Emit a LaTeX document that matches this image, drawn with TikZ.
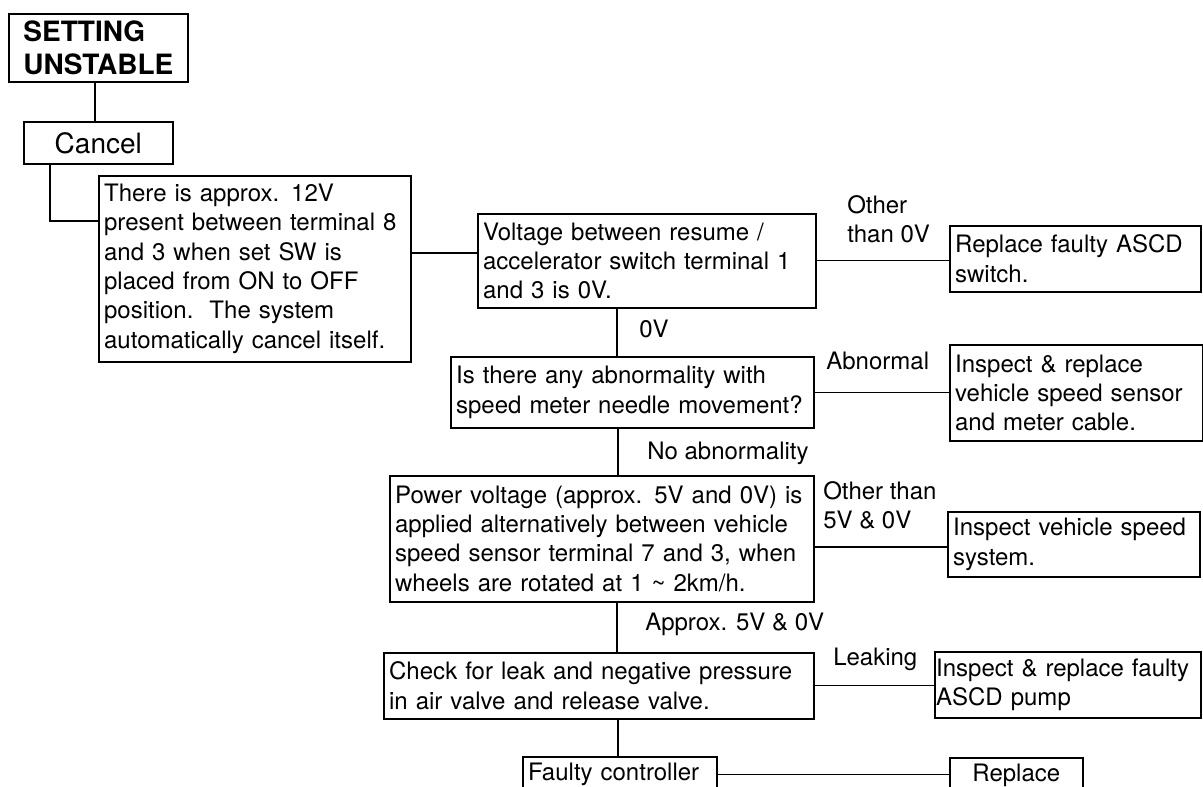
\documentclass[tikz,border=0pt]{standalone}
\usepackage{fontspec}
\setmainfont{TeX Gyre Heros}
\begin{document}
\begin{tikzpicture}[x=0.75pt, y=-0.75pt,
  box/.style={draw, line width=1.2pt, anchor=north west, align=left,
    inner xsep=4pt, inner ysep=0pt, font=\fontsize{18}{22}\selectfont},
  lbl/.style={anchor=base west, inner sep=0pt, font=\fontsize{18}{22}\selectfont},
  conn/.style={line width=0.9pt}]
  \useasboundingbox (0,0) rectangle (1203,787);
  \clip (0,0) rectangle (1203,787);

  % Start and first check
  \node[box, font=\fontsize{21}{25}\selectfont\bfseries, inner xsep=11pt, minimum height=51pt] (title) at (8,13) {SETTING\\UNSTABLE};
  \node[box, align=center, font=\fontsize{21}{25}\selectfont, minimum width=111.75pt, minimum height=31.5pt] (cancel) at (23,121) {Cancel};
  \node[box, text width=226pt, minimum height=139.5pt] (present) at (98,175) {There is approx. 12V\\present between terminal 8\\and 3 when set SW is\\placed from ON to OFF\\position.\ \ The system\\automatically cancel itself.};

  % Main column
  \node[box, text width=245.5pt, minimum height=70.5pt] (volt) at (477,213) {Voltage between resume /\\accelerator switch terminal 1\\and 3 is 0V.};
  \node[box, text width=264.25pt, minimum height=53.25pt] (abn) at (450,356) {Is there any abnormality with\\speed meter needle movement?};
  \node[box, text width=310pt, minimum height=94.5pt] (power) at (389,475) {Power voltage (approx. 5V and 0V) is\\applied alternatively between vehicle\\speed sensor terminal 7 and 3, when\\wheels are rotated at 1 \textasciitilde{} 2km/h.};
  \node[box, text width=314.5pt, minimum height=49.5pt] (check) at (383,652) {Check for leak and negative pressure\\in air valve and release valve.};
  \node[box, text width=137.5pt, minimum height=26pt] (faulty) at (522,756) {Faulty controller};

  % Remedies
  \node[box, text width=180.25pt, minimum height=49.5pt] (swrepl) at (949,225) {Replace faulty ASCD\\switch.};
  \node[box, text width=181.75pt, minimum height=72pt] (sensor) at (949,344) {Inspect \& replace\\vehicle speed sensor\\and meter cable.};
  \node[box, text width=181pt, minimum height=48.75pt] (speedsys) at (947,511) {Inspect vehicle speed\\system.};
  \node[box, inner xsep=1pt, text width=197.5pt, minimum height=49.5pt] (pump) at (934,651) {Inspect \& replace faulty\\ASCD pump};
  \node[box, align=center, minimum width=99.75pt, minimum height=26pt] (replace) at (949,757) {Replace};

  % Connectors
  \draw[conn] (95,0 |- title.south) -- (95,0 |- cancel.north);
  \draw[conn] (50,0 |- cancel.south) |- (present.west |- 0,221);
  \draw[conn] (present.east |- 0,253) -- (volt.west |- 0,253);
  \draw[conn] (volt.east) -- (volt.east -| swrepl.west);
  \draw[conn] (617,0 |- volt.south) -- (617,0 |- abn.north);
  \draw[conn] (abn.east) -- (abn.east -| sensor.west);
  \draw[conn] (618,0 |- abn.south) -- (618,0 |- power.north);
  \draw[conn] (power.east |- 0,547) -- (speedsys.west |- 0,547);
  \draw[conn] (617,0 |- power.south) -- (617,0 |- check.north);
  \draw[conn] (check.east) -- (check.east -| pump.west);
  \draw[conn] (618,0 |- check.south) -- (618,0 |- faulty.north);
  \draw[conn] (faulty.east) -- (faulty.east -| replace.west);

  % Branch labels
  \node[lbl, align=left, anchor=north west] (lothv) at (847,195) {Other\\than 0V};
  \node[lbl] (lzero) at (639,338) {0V};
  \node[lbl] (labn) at (826,370) {Abnormal};
  \node[lbl] (lnoabn) at (647,460) {No abnormality};
  \node[lbl, align=left, anchor=north west] (lothf) at (823,481) {Other than\\5V \& 0V};
  \node[lbl] (lfive) at (645,630) {Approx. 5V \& 0V};
  \node[lbl] (lleak) at (833,665) {Leaking};
\end{tikzpicture}
\end{document}
